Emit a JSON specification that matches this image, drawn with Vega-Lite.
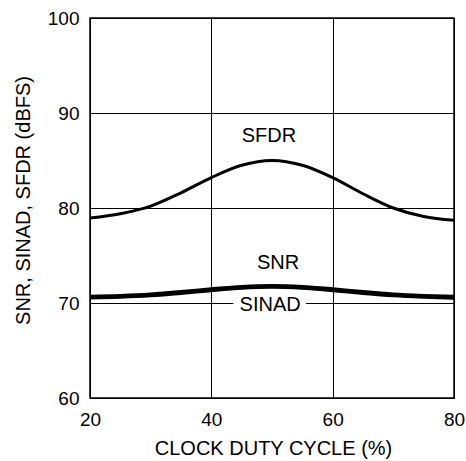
{
  "$schema": "https://vega.github.io/schema/vega-lite/v6.json",
  "autosize": "none",
  "width": 364,
  "height": 380,
  "padding": {"left": 90, "top": 18, "right": 12, "bottom": 63},
  "background": "white",
  "config": {
    "font": "Liberation Sans",
    "view": {"stroke": "black", "strokeWidth": 1.5},
    "axis": {
      "grid": true, "gridColor": "black", "gridOpacity": 1, "gridWidth": 1,
      "ticks": false, "domain": false,
      "labelFont": "Liberation Sans", "labelFontSize": 19, "labelColor": "black",
      "titleFont": "Liberation Sans", "titleFontSize": 20, "titleFontWeight": "normal", "titleColor": "black"
    }
  },
  "datasets": {
    "curves": [
      {"x": 20, "value": 78.95, "series": "SFDR"},
      {"x": 25, "value": 79.4, "series": "SFDR"},
      {"x": 30, "value": 80.2, "series": "SFDR"},
      {"x": 35, "value": 81.6, "series": "SFDR"},
      {"x": 40, "value": 83.2, "series": "SFDR"},
      {"x": 45, "value": 84.5, "series": "SFDR"},
      {"x": 50, "value": 85.0, "series": "SFDR"},
      {"x": 55, "value": 84.5, "series": "SFDR"},
      {"x": 60, "value": 83.2, "series": "SFDR"},
      {"x": 65, "value": 81.5, "series": "SFDR"},
      {"x": 70, "value": 80.0, "series": "SFDR"},
      {"x": 75, "value": 79.1, "series": "SFDR"},
      {"x": 80, "value": 78.7, "series": "SFDR"},
      {"x": 20, "value": 70.72, "series": "SNR"},
      {"x": 25, "value": 70.8, "series": "SNR"},
      {"x": 30, "value": 70.95, "series": "SNR"},
      {"x": 35, "value": 71.2, "series": "SNR"},
      {"x": 40, "value": 71.5, "series": "SNR"},
      {"x": 45, "value": 71.75, "series": "SNR"},
      {"x": 50, "value": 71.85, "series": "SNR"},
      {"x": 55, "value": 71.75, "series": "SNR"},
      {"x": 60, "value": 71.5, "series": "SNR"},
      {"x": 65, "value": 71.2, "series": "SNR"},
      {"x": 70, "value": 70.95, "series": "SNR"},
      {"x": 75, "value": 70.8, "series": "SNR"},
      {"x": 80, "value": 70.7, "series": "SNR"},
      {"x": 20, "value": 70.52, "series": "SINAD"},
      {"x": 25, "value": 70.6, "series": "SINAD"},
      {"x": 30, "value": 70.75, "series": "SINAD"},
      {"x": 35, "value": 71.0, "series": "SINAD"},
      {"x": 40, "value": 71.3, "series": "SINAD"},
      {"x": 45, "value": 71.55, "series": "SINAD"},
      {"x": 50, "value": 71.65, "series": "SINAD"},
      {"x": 55, "value": 71.55, "series": "SINAD"},
      {"x": 60, "value": 71.3, "series": "SINAD"},
      {"x": 65, "value": 71.0, "series": "SINAD"},
      {"x": 70, "value": 70.75, "series": "SINAD"},
      {"x": 75, "value": 70.6, "series": "SINAD"},
      {"x": 80, "value": 70.5, "series": "SINAD"}
    ],
    "labels": [
      {"x": 49.5, "y": 87.6, "text": "SFDR", "mask": false},
      {"x": 51.0, "y": 74.2, "text": "SNR", "mask": false},
      {"x": 49.7, "y": 69.8, "text": "SINAD", "mask": true}
    ]
  },
  "encoding": {
    "x": {
      "field": "x", "type": "quantitative",
      "scale": {"domain": [20, 80], "nice": false, "zero": false},
      "axis": {"values": [20, 40, 60, 80], "title": "CLOCK DUTY CYCLE (%)", "labelPadding": 12, "labelBaseline": "top",
               "titleX": 183, "titleY": 50, "titleBaseline": "middle", "titleAlign": "center",
               "labelFlush": false, "labelOverlap": false}
    },
    "y": {
      "field": "value", "type": "quantitative",
      "scale": {"domain": [60, 100], "nice": false, "zero": false},
      "axis": {"values": [60, 70, 80, 90, 100], "title": "SNR, SINAD, SFDR (dBFS)", "labelPadding": 11,
               "titleX": -67, "titleY": 182, "titleAngle": -90, "titleBaseline": "middle", "titleAlign": "center",
               "labelFlush": false, "labelOverlap": false}
    }
  },
  "layer": [
    {
      "data": {"name": "labels"},
      "transform": [{"filter": "datum.mask"}],
      "mark": {"type": "text", "fontSize": 20, "font": "Liberation Sans", "fill": "white", "stroke": "white", "strokeWidth": 12, "baseline": "middle", "align": "center"},
      "encoding": {"y": {"field": "y", "type": "quantitative"}, "text": {"field": "text"}}
    },
    {
      "data": {"name": "curves"},
      "mark": {"type": "line", "interpolate": "monotone", "color": "black", "strokeWidth": 3},
      "encoding": {"detail": {"field": "series"}}
    },
    {
      "data": {"name": "labels"},
      "mark": {"type": "text", "fontSize": 20, "font": "Liberation Sans", "color": "black", "baseline": "middle", "align": "center"},
      "encoding": {"y": {"field": "y", "type": "quantitative"}, "text": {"field": "text"}}
    }
  ]
}
